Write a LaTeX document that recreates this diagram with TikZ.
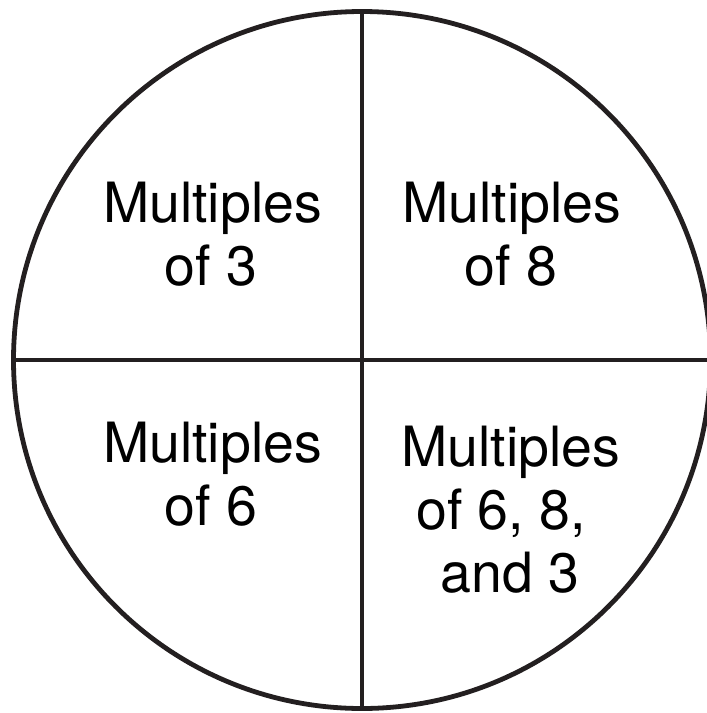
\documentclass[tikz,border=0pt]{standalone}
\usepackage{fontspec}
\setmainfont{TeX Gyre Heros}
\definecolor{ink}{HTML}{231F20}
\begin{document}
\begin{tikzpicture}[x=1pt,y=-1pt,
  lbl/.style={anchor=base,inner sep=0pt,text=black,font=\fontsize{55.5}{63}\selectfont},
  rule/.style={draw=ink,line width=4.8pt}]
\useasboundingbox (0,0) rectangle (707,713);
\coordinate (c) at (362,360);
\draw[rule] (c) circle[radius=348.5];
\coordinate (top) at (362,11.5);
\coordinate (bot) at (362,708.5);
\coordinate (lft) at (13.5,360);
\coordinate (rgt) at (720,360);
\draw[rule] (top) -- (bot);
\draw[rule] (lft) -- (rgt);
\node[lbl] (a1) at (212.5,222) {Multiples};
\node[lbl] (a2) at (211,285) {of 3};
\node[lbl] (b1) at (512,222) {Multiples};
\node[lbl] (b2) at (511,285) {of 8};
\node[lbl] (c1) at (212.5,462) {Multiples};
\node[lbl] (c2) at (211,525) {of 6};
\node[lbl] (d1) at (511,466) {Multiples};
\node[lbl] (d2) at (501,529) {of 6, 8,};
\node[lbl] (d3) at (510,592) {and 3};
\end{tikzpicture}
\end{document}
